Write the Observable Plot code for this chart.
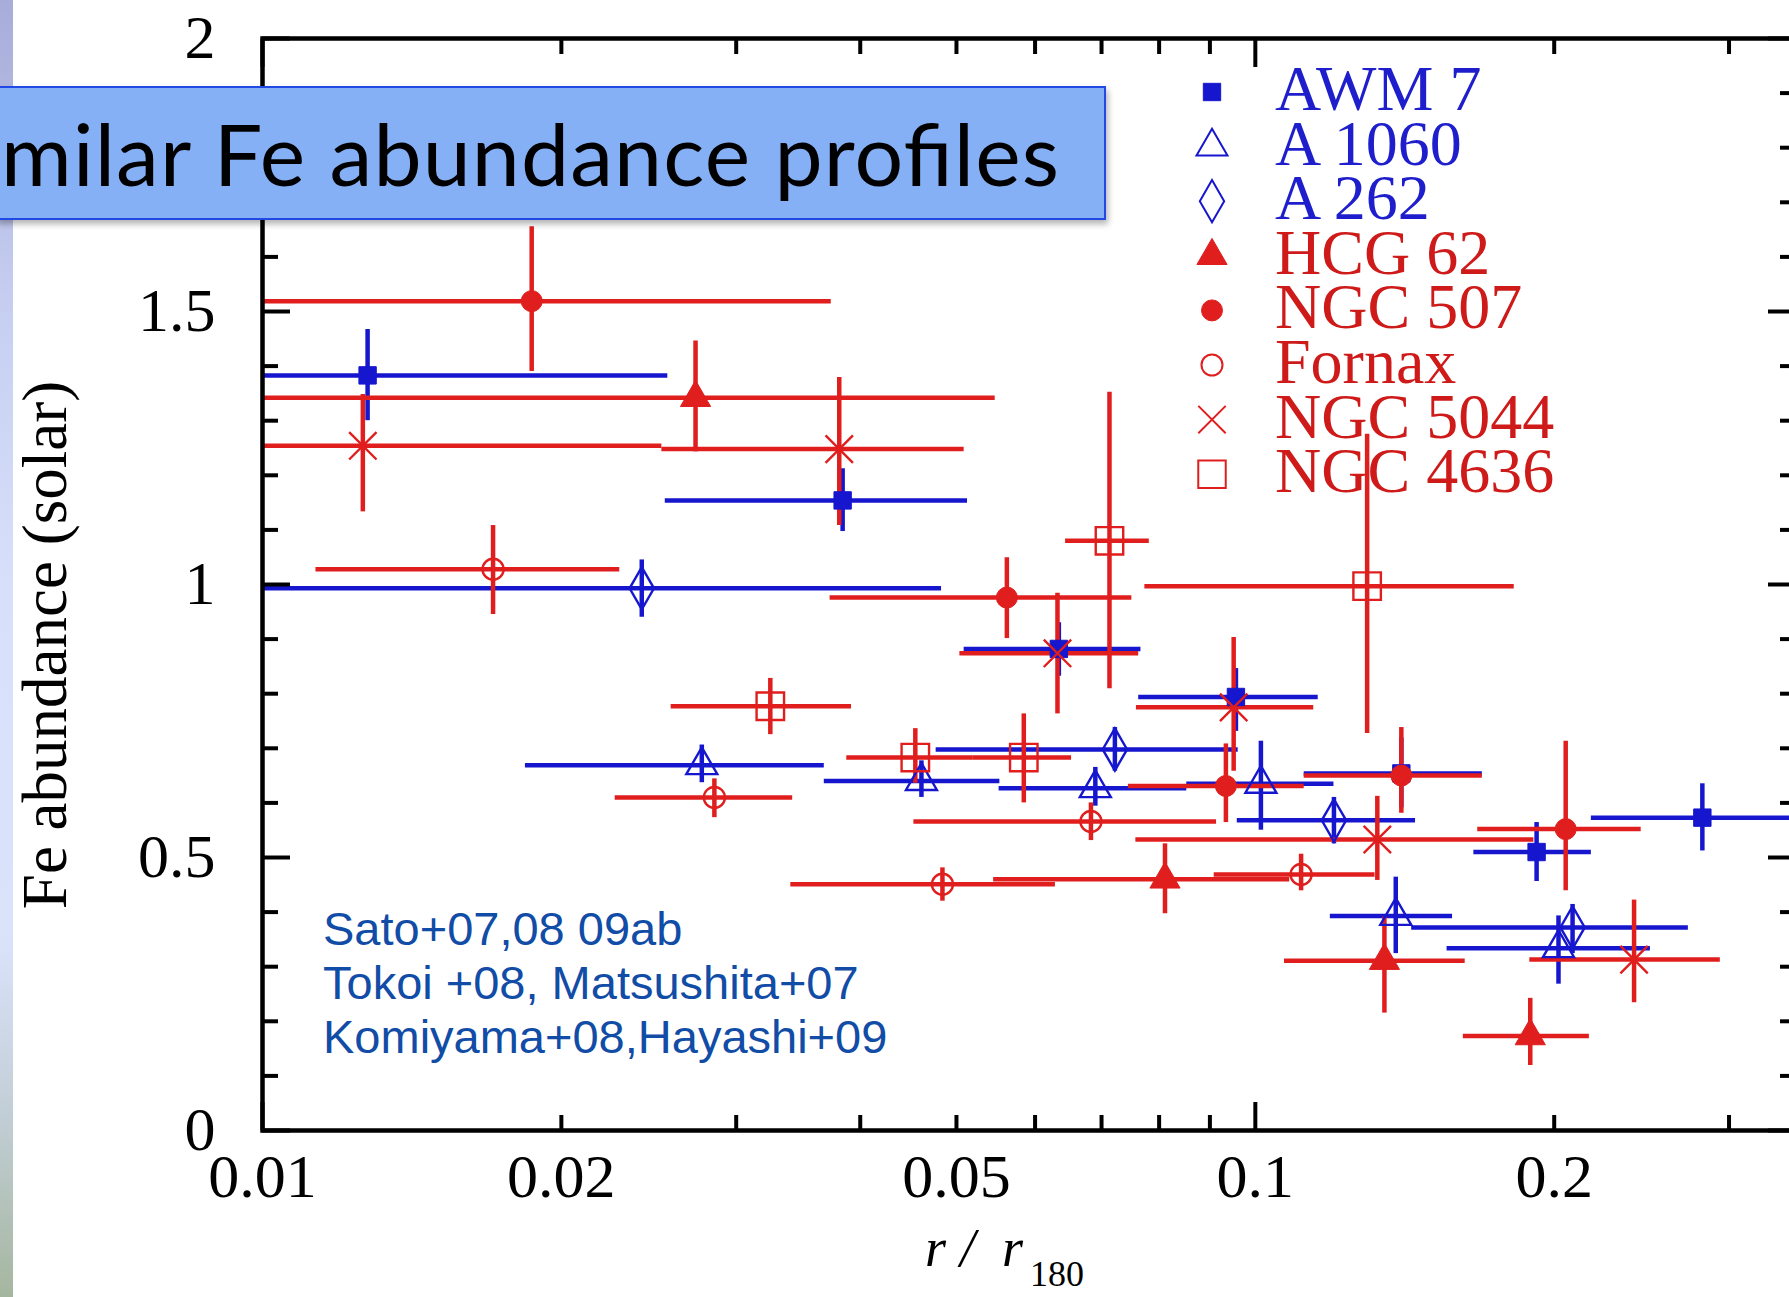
<!DOCTYPE html>
<html>
<head>
<meta charset="utf-8">
<script src="https://cdn.jsdelivr.net/npm/d3@7"></script>
<script src="https://cdn.jsdelivr.net/npm/@observablehq/plot@0.6"></script>
<style>
  html, body { margin: 0; padding: 0; background: #ffffff; }
  body { width: 1789px; height: 1297px; overflow: hidden; position: relative; }
  #chart { position: absolute; left: 0; top: 0; width: 1800px; }
  #overlay { position: absolute; left: 0; top: 0; pointer-events: none; }
</style>
</head>
<body>
<div id="chart"></div>
<svg id="overlay" width="1789" height="1297"></svg>
<script>
// ---------------- DATA ----------------
const clusters = ["AWM 7", "A 1060", "A 262", "HCG 62", "NGC 507", "Fornax", "NGC 5044", "NGC 4636"];

// each row: [r/r180, r low, r high, Fe, Fe low, Fe high]
const awm7 = [
  [0.01276, 0.0100, 0.0256, 1.383, 1.300, 1.467],
  [0.0384, 0.02545, 0.0513, 1.154, 1.097, 1.212],
  [0.0634, 0.0509, 0.0767, 0.882, 0.832, 0.930],
  [0.0956, 0.0763, 0.1157, 0.794, 0.731, 0.846],
  [0.1403, 0.1120, 0.1693, 0.654, 0.591, 0.719],
  [0.1920, 0.1660, 0.2180, 0.510, 0.456, 0.564],
  [0.2820, 0.2180, 0.3600, 0.573, 0.512, 0.635]
];
const a1060 = [
  [0.0277, 0.0184, 0.0368, 0.669, 0.637, 0.706],
  [0.0461, 0.0368, 0.0553, 0.640, 0.610, 0.677],
  [0.0690, 0.0552, 0.0853, 0.627, 0.594, 0.665],
  [0.1013, 0.0853, 0.1200, 0.635, 0.550, 0.713],
  [0.1385, 0.1190, 0.1580, 0.393, 0.324, 0.464],
  [0.2020, 0.1560, 0.2500, 0.334, 0.268, 0.393]
];
const a262 = [
  [0.0241, 0.0100, 0.0483, 0.993, 0.940, 1.045],
  [0.0722, 0.0477, 0.0961, 0.698, 0.658, 0.738],
  [0.1200, 0.0959, 0.1450, 0.568, 0.525, 0.610],
  [0.2087, 0.1437, 0.2730, 0.372, 0.324, 0.414]
];
const hcg62 = [
  [0.0273, 0.0100, 0.0547, 1.342, 1.243, 1.446],
  [0.0811, 0.0545, 0.1083, 0.460, 0.397, 0.525],
  [0.1349, 0.1070, 0.1627, 0.311, 0.215, 0.391],
  [0.1892, 0.1620, 0.2170, 0.173, 0.119, 0.242]
];
const ngc507 = [
  [0.01867, 0.0100, 0.0374, 1.519, 1.390, 1.655],
  [0.0562, 0.0373, 0.0751, 0.976, 0.901, 1.049],
  [0.0934, 0.0745, 0.1120, 0.631, 0.564, 0.708],
  [0.1403, 0.1120, 0.1693, 0.650, 0.581, 0.738],
  [0.2054, 0.1675, 0.2447, 0.552, 0.439, 0.713]
];
const fornax = [
  [0.01707, 0.01132, 0.0229, 1.028, 0.945, 1.108],
  [0.02852, 0.02266, 0.0342, 0.610, 0.573, 0.644],
  [0.0484, 0.03405, 0.0629, 0.451, 0.420, 0.481],
  [0.0683, 0.0453, 0.0914, 0.566, 0.531, 0.600],
  [0.1112, 0.0909, 0.1320, 0.469, 0.439, 0.506]
];
const ngc5044 = [
  [0.01262, 0.0100, 0.02525, 1.254, 1.133, 1.348],
  [0.0381, 0.02525, 0.0509, 1.248, 1.108, 1.379],
  [0.0632, 0.0504, 0.0763, 0.874, 0.763, 0.984],
  [0.0951, 0.0759, 0.1145, 0.775, 0.658, 0.903],
  [0.1327, 0.0758, 0.1908, 0.533, 0.458, 0.612],
  [0.2407, 0.1890, 0.2940, 0.313, 0.234, 0.422]
];
const ngc4636 = [
  [0.03247, 0.0258, 0.0392, 0.777, 0.725, 0.828],
  [0.04545, 0.03877, 0.0520, 0.683, 0.636, 0.736],
  [0.05845, 0.0520, 0.0653, 0.683, 0.600, 0.763],
  [0.0713, 0.0644, 0.0782, 1.080, 0.809, 1.352],
  [0.1296, 0.0774, 0.1823, 0.997, 0.727, 1.275]
];
const clusterData = [awm7, a1060, a262, hcg62, ngc507, fornax, ngc5044, ngc4636];

const xDomain = [0.01, 0.35];
const yDomain = [0, 2];
const xTickLabels = [0.01, 0.02, 0.05, 0.1, 0.2];
const xMajorTicks = [0.01, 0.1];
const xMinorTicks = [0.02, 0.03, 0.04, 0.05, 0.06, 0.07, 0.08, 0.09, 0.2, 0.3];
const yTickLabels = [0, 0.5, 1, 1.5, 2];
const yMinorTicks = [0.1, 0.2, 0.3, 0.4, 0.6, 0.7, 0.8, 0.9, 1.1, 1.2, 1.3, 1.4, 1.6, 1.7, 1.8, 1.9];
const yAxisTitle = "Fe abundance (solar)";
const titleText = "milar Fe abundance profiles";
const referenceLines = ["Sato+07,08 09ab", "Tokoi +08, Matsushita+07", "Komiyama+08,Hayashi+09"];

// ---------------- STYLES ----------------
const BLUE = "#1616cf", RED = "#e01e1e";
const styles = {
  "AWM 7":    {color: BLUE, symbol: "square",   r: 9.8,  filled: true,  d3sym: d3.symbolSquare},
  "A 1060":   {color: BLUE, symbol: "triangle", r: 11.5, filled: false, d3sym: d3.symbolTriangle},
  "A 262":    {color: BLUE, symbol: "diamond",  r: 12.8, filled: false, d3sym: d3.symbolDiamond},
  "HCG 62":   {color: RED,  symbol: "triangle", r: 11.2, filled: true,  d3sym: d3.symbolTriangle},
  "NGC 507":  {color: RED,  symbol: "circle",   r: 10.5, filled: true,  d3sym: d3.symbolCircle},
  "Fornax":   {color: RED,  symbol: "circle",   r: 10.5, filled: false, d3sym: d3.symbolCircle},
  "NGC 5044": {color: RED,  symbol: "times",    r: 12.5, filled: false, d3sym: d3.symbolTimes},
  "NGC 4636": {color: RED,  symbol: "square",   r: 15.5, filled: false, d3sym: d3.symbolSquare}
};

// ---------------- PLOT ----------------
const barMarks = [];
const dotMarks = [];
clusters.forEach((name, i) => {
  const s = styles[name];
  const rows = clusterData[i].map(([r, rLo, rHi, fe, feLo, feHi]) => ({name, r, rLo, rHi, fe, feLo, feHi}));
  barMarks.push(Plot.ruleY(rows, {y: "fe", x1: "rLo", x2: "rHi", stroke: s.color, strokeWidth: 4.5, clip: true}));
  barMarks.push(Plot.ruleX(rows, {x: "r", y1: "feLo", y2: "feHi", stroke: s.color, strokeWidth: 4.5, clip: true}));
  dotMarks.push(Plot.dot(rows, {
    x: "r", y: "fe", symbol: s.symbol, r: s.r,
    fill: s.filled ? s.color : "none",
    stroke: s.color, strokeWidth: s.filled ? 1 : 2.4, clip: true
  }));
});

const noText = () => "";
const plot = Plot.plot({
  width: 1800,
  height: 1297,
  marginLeft: 262,
  marginRight: 5,
  marginTop: 38,
  marginBottom: 167,
  style: {fontFamily: "'Liberation Serif', 'Times New Roman', serif", fontSize: "62px", color: "#000", background: "transparent", maxWidth: "none"},
  x: {type: "log", domain: xDomain},
  y: {domain: yDomain},
  marks: [
    ...barMarks,
    ...dotMarks,
    Plot.axisX(xMajorTicks, {anchor: "bottom", tickSize: -28, strokeWidth: 4, tickFormat: noText, label: null}),
    Plot.axisX(xMinorTicks, {anchor: "bottom", tickSize: -15, strokeWidth: 4, tickFormat: noText, label: null}),
    Plot.axisX(xMajorTicks, {anchor: "top", tickSize: -28, strokeWidth: 4, tickFormat: noText, label: null}),
    Plot.axisX(xMinorTicks, {anchor: "top", tickSize: -15, strokeWidth: 4, tickFormat: noText, label: null}),
    Plot.axisX(xTickLabels, {anchor: "bottom", tickSize: 0, tickPadding: 22, tickFormat: d => String(d), label: null}),
    Plot.axisY(yTickLabels, {anchor: "left", tickSize: -28, strokeWidth: 4, tickFormat: noText, label: null}),
    Plot.axisY(yMinorTicks, {anchor: "left", tickSize: -16, strokeWidth: 4, tickFormat: noText, label: null}),
    Plot.axisY(yTickLabels, {anchor: "right", tickSize: -28, strokeWidth: 4, tickFormat: noText, label: null}),
    Plot.axisY(yMinorTicks, {anchor: "right", tickSize: -16, strokeWidth: 4, tickFormat: noText, label: null}),
    Plot.axisY(yTickLabels, {anchor: "left", tickSize: 0, tickPadding: 47, tickFormat: d => String(d), label: null}),
    Plot.frame({stroke: "#000", strokeWidth: 4.5})
  ]
});
document.getElementById("chart").appendChild(plot);

// ---------------- OVERLAY: slide decoration, legend, titles ----------------
const ov = d3.select("#overlay");
const defs = ov.append("defs");
const grad = defs.append("linearGradient").attr("id", "strip").attr("x1", 0).attr("y1", 0).attr("x2", 0).attr("y2", 1);
[[0, "#a7acd9"], [0.25, "#c8d0f2"], [0.45, "#d7dffb"], [0.72, "#dbe3fb"], [0.86, "#c2ced6"], [1, "#a5b69f"]]
  .forEach(([o, c]) => grad.append("stop").attr("offset", o).attr("stop-color", c));
const shadow = defs.append("filter").attr("id", "shadow").attr("x", "-5%").attr("y", "-20%").attr("width", "115%").attr("height", "150%");
shadow.append("feDropShadow").attr("dx", 2).attr("dy", 4).attr("stdDeviation", 3).attr("flood-color", "#000").attr("flood-opacity", 0.3);

ov.append("rect").attr("x", 0).attr("y", 0).attr("width", 13).attr("height", 1297).attr("fill", "url(#strip)");

// axis titles
ov.append("text")
  .attr("transform", "translate(66,645) rotate(-90)")
  .attr("text-anchor", "middle")
  .attr("font-family", "'Liberation Serif', serif")
  .attr("font-size", 63)
  .attr("fill", "#000")
  .text(yAxisTitle);
const xt = ov.append("g").attr("font-family", "'Liberation Serif', serif").attr("fill", "#000");
xt.append("text").attr("x", 925).attr("y", 1266).attr("font-size", 54).attr("font-style", "italic").text("r");
xt.append("text").attr("x", 960).attr("y", 1266).attr("font-size", 54).attr("font-style", "italic").text("/");
xt.append("text").attr("x", 1002).attr("y", 1266).attr("font-size", 54).attr("font-style", "italic").text("r");
xt.append("text").attr("x", 1030).attr("y", 1286).attr("font-size", 36).text("180");

// title box
ov.append("rect").attr("x", -4).attr("y", 87).attr("width", 1109).attr("height", 132)
  .attr("fill", "#86b0f5").attr("stroke", "#2449e6").attr("stroke-width", 2).attr("filter", "url(#shadow)");
ov.append("text").attr("x", 1).attr("y", 186)
  .attr("font-family", "Lato, 'Open Sans', sans-serif").attr("font-size", 86)
  .attr("textLength", 1058).attr("lengthAdjust", "spacing")
  .attr("fill", "#000").text(titleText);

// legend
const leg = ov.append("g");
clusters.forEach((name, i) => {
  const s = styles[name];
  const base = 110 + i * 54.6;
  leg.append("path")
    .attr("transform", `translate(1212,${base - 18})`)
    .attr("d", d3.symbol(s.d3sym, Math.PI * s.r * s.r)())
    .attr("fill", s.filled ? s.color : "none")
    .attr("stroke", s.color)
    .attr("stroke-width", s.filled ? 1 : 2);
  leg.append("text").attr("x", 1275).attr("y", base)
    .attr("font-family", "'Liberation Serif', serif").attr("font-size", 64)
    .attr("fill", s.color === BLUE ? "#1e1ecc" : "#cf1a1a")
    .text(name);
});

// reference note
const note = ov.append("g").attr("font-family", "'Liberation Sans', Arial, sans-serif").attr("font-size", 47).attr("fill", "#114ca6");
referenceLines.forEach((t, i) => note.append("text").attr("x", 323).attr("y", 945 + i * 54).text(t));
</script>
</body>
</html>
